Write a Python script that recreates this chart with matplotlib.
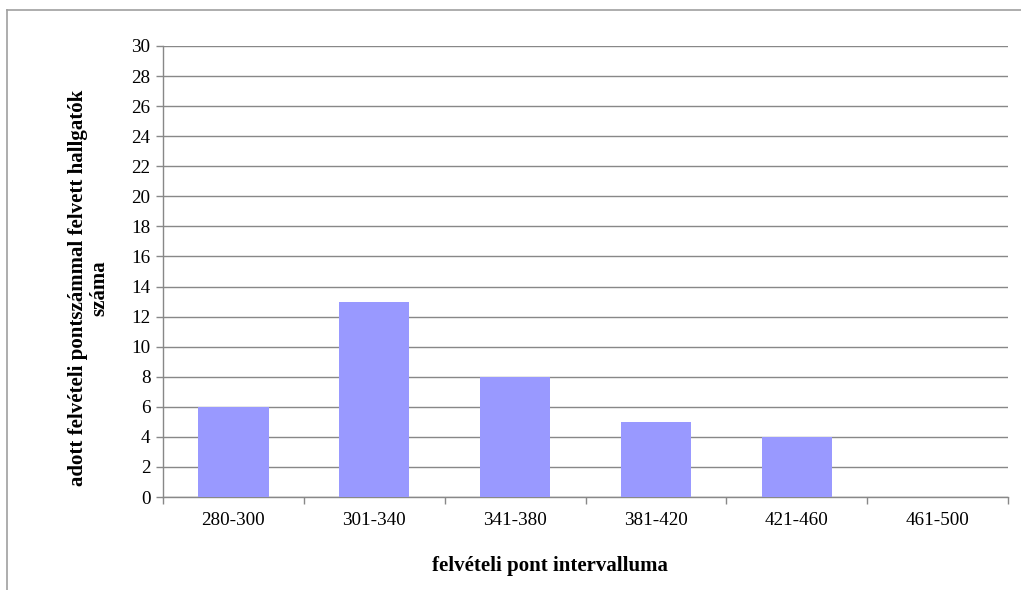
import matplotlib
matplotlib.use('Agg')
import matplotlib.pyplot as plt
import numpy as np

categories = ['280-300', '301-340', '341-380', '381-420', '421-460', '461-500']
counts = [6, 13, 8, 5, 4, 0]
y_ticks = list(range(0, 31, 2))

plt.rcParams['font.family'] = ['Liberation Serif', 'DejaVu Serif']

W, H = 1021, 590
fig = plt.figure(figsize=(W / 100, H / 100), dpi=100)
# chart border (only top and left are visible in the reference)
fig.add_artist(plt.Line2D([7 / W, 7 / W], [0, 1 - 10 / H], color='#a0a0a0', lw=1.2))
fig.add_artist(plt.Line2D([7 / W, 1], [1 - 10 / H, 1 - 10 / H], color='#a0a0a0', lw=1.2))

ax = fig.add_axes([163 / W, 1 - 497 / H, (1008 - 163) / W, (497 - 46) / H])
x = np.arange(len(categories))
ax.bar(x, counts, width=0.5, color='#9999ff', zorder=3)

ax.set_xlim(-0.5, len(categories) - 0.5)
ax.set_ylim(0, 30)
ax.set_yticks(y_ticks)
ax.set_yticklabels([str(v) for v in y_ticks], fontsize=13.8)
ax.set_xticks(x)
ax.set_xticklabels(categories, fontsize=13.8)
ax.tick_params(axis='x', length=0, pad=11)
ax.set_xticks(np.arange(-0.5, len(categories)), minor=True)
ax.tick_params(axis='x', which='minor', length=5, color='#888888', width=1)
ax.tick_params(axis='y', length=5, color='#888888', width=1, pad=4)

ax.grid(axis='y', color='#888888', lw=1, zorder=0)
for side in ['top', 'right']:
    ax.spines[side].set_visible(False)
for side in ['left', 'bottom']:
    ax.spines[side].set_color('#888888')
    ax.spines[side].set_linewidth(1)

fig.text(89 / W, 1 - 288 / H, 'adott felvételi pontszámmal felvett hallgatók\nszáma',
         rotation=90, ha='center', va='center', multialignment='center',
         fontsize=15, fontweight='bold', linespacing=1.1)
fig.text(550 / W, 1 - 566 / H, 'felvételi pont intervalluma', ha='center', va='center',
         fontsize=15, fontweight='bold')

fig.savefig('out.png', dpi=100)
